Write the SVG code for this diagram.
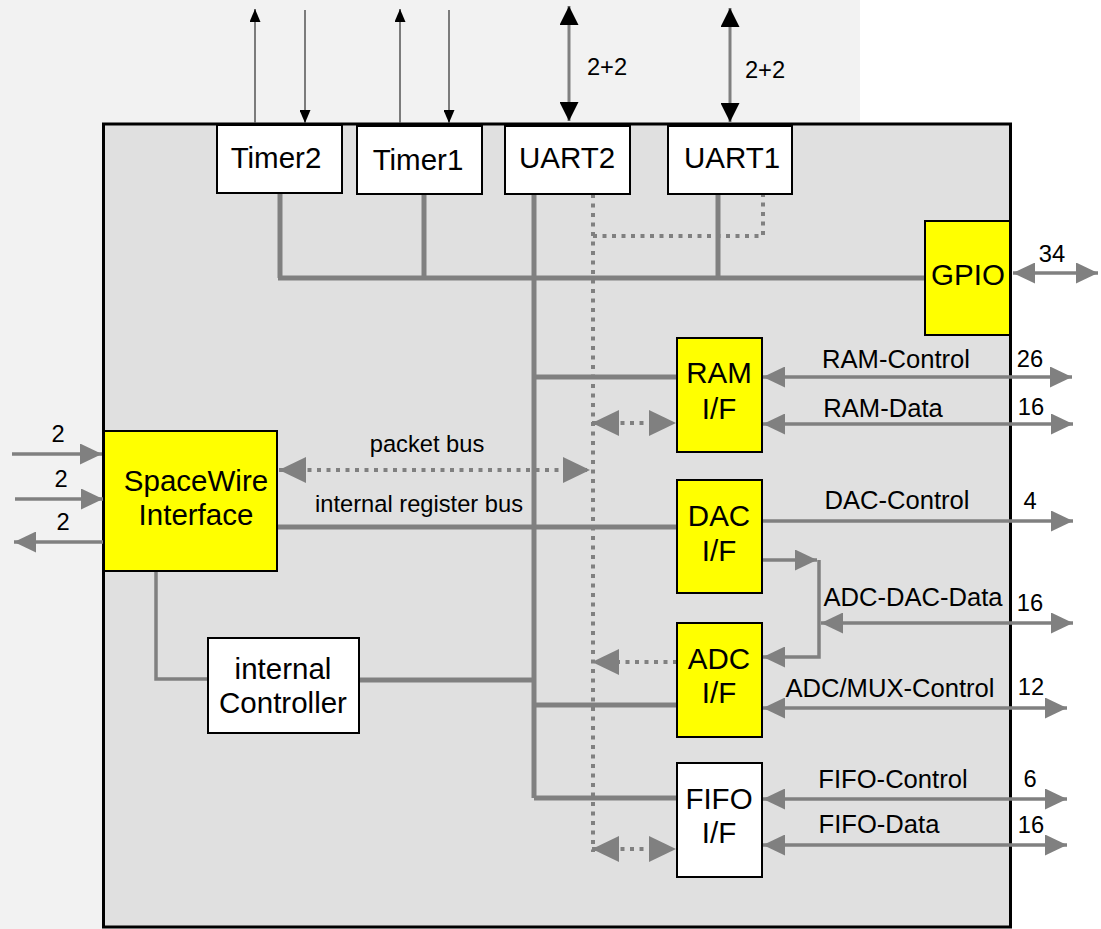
<svg xmlns="http://www.w3.org/2000/svg" width="1101" height="929" viewBox="0 0 1101 929">
<style>
.box{stroke:#000;stroke-width:2}
.w{fill:#fff}
.y{fill:#ffff00}
.t{font-family:"Liberation Sans",Arial,sans-serif;fill:#000;text-anchor:middle}
.big{font-size:29.5px}
.lbl{font-size:23.7px}
.rl{font-size:25.6px}
.bus{stroke:#808080;stroke-width:5;fill:none}
.thin{stroke:#808080;stroke-width:3.5;fill:none}
.ext{stroke:#808080;stroke-width:3.5;fill:none}
.dot{stroke:#808080;stroke-width:4;stroke-dasharray:4 5.5;fill:none}
.sig{stroke:#555;stroke-width:1.5;fill:none}
.uart{stroke:#808080;stroke-width:3;fill:none}
</style>
<defs>
<marker id="ga" markerUnits="userSpaceOnUse" markerWidth="22" markerHeight="21" refX="22" refY="10.5" orient="auto-start-reverse"><path d="M0,0 L22,10.5 L0,21 z" fill="#808080"/></marker>
<marker id="gb" markerUnits="userSpaceOnUse" markerWidth="27" markerHeight="26" refX="27" refY="13" orient="auto-start-reverse"><path d="M0,0 L27,13 L0,26 z" fill="#808080"/></marker>
<marker id="ka" markerUnits="userSpaceOnUse" markerWidth="13" markerHeight="11" refX="13" refY="5.5" orient="auto-start-reverse"><path d="M0,0 L13,5.5 L0,11 z" fill="#000"/></marker>
<marker id="kb" markerUnits="userSpaceOnUse" markerWidth="19" markerHeight="19" refX="19" refY="9.5" orient="auto-start-reverse"><path d="M0,0 L19,9.5 L0,19 z" fill="#000"/></marker>
</defs>
<rect x="0" y="0" width="1101" height="929" fill="#fff"/>
<rect x="0" y="0" width="860" height="929" fill="#f2f2f2"/>
<g id="frame"><rect x="103.5" y="124" width="907" height="803" fill="#e0e0e0" stroke="#000" stroke-width="3"/></g>
<g id="connectors">
<path class="bus" d="M280,193 V278 M278,278 H925 M424,193 V278 M534,194 V798 M718,194 V278 M534,377 H677 M277,527 H677 M359,680 H534 M534,705 H677 M534,798 H677"/>
<path class="thin" d="M156,570 V679 H208"/>
<path class="dot" d="M593,194 V852 M593,236 H763 V194"/>
<line class="dot" x1="279" y1="470" x2="590" y2="470" marker-start="url(#gb)" marker-end="url(#gb)"/>
<line class="dot" x1="592" y1="423" x2="676" y2="423" marker-start="url(#gb)" marker-end="url(#gb)"/>
<line class="dot" x1="677" y1="662" x2="592" y2="662" marker-end="url(#gb)"/>
<line class="dot" x1="592" y1="849" x2="676" y2="849" marker-start="url(#gb)" marker-end="url(#gb)"/>
<line class="ext" x1="763" y1="377" x2="1072" y2="377" marker-start="url(#ga)" marker-end="url(#ga)"/>
<line class="ext" x1="763" y1="424" x2="1073" y2="424" marker-start="url(#ga)" marker-end="url(#ga)"/>
<line class="ext" x1="762" y1="521" x2="1073" y2="521" marker-end="url(#ga)"/>
<line class="ext" x1="762" y1="560" x2="817" y2="560" marker-end="url(#ga)"/>
<polyline class="ext" points="819,560 819,657 763,657" marker-end="url(#ga)"/>
<line class="ext" x1="821" y1="623" x2="1073" y2="623" marker-start="url(#ga)" marker-end="url(#ga)"/>
<line class="ext" x1="763" y1="708" x2="1067" y2="708" marker-start="url(#ga)" marker-end="url(#ga)"/>
<line class="ext" x1="763" y1="799" x2="1067" y2="799" marker-start="url(#ga)" marker-end="url(#ga)"/>
<line class="ext" x1="763" y1="845" x2="1067" y2="845" marker-start="url(#ga)" marker-end="url(#ga)"/>
<line class="ext" x1="1013" y1="273" x2="1098" y2="273" marker-start="url(#ga)" marker-end="url(#ga)"/>
<line class="ext" x1="12" y1="454" x2="102" y2="454" marker-end="url(#ga)"/>
<line class="ext" x1="15" y1="499" x2="103" y2="499" marker-end="url(#ga)"/>
<line class="ext" x1="103" y1="542" x2="14" y2="542" marker-end="url(#ga)"/>
<line class="sig" x1="255" y1="123" x2="255" y2="9" marker-end="url(#ka)"/>
<line class="sig" x1="305" y1="10" x2="305" y2="123" marker-end="url(#ka)"/>
<line class="sig" x1="400" y1="123" x2="400" y2="9" marker-end="url(#ka)"/>
<line class="sig" x1="449" y1="10" x2="449" y2="123" marker-end="url(#ka)"/>
<line class="uart" x1="569" y1="6" x2="569" y2="121" marker-start="url(#kb)" marker-end="url(#kb)"/>
<line class="uart" x1="730" y1="8" x2="730" y2="122" marker-start="url(#kb)" marker-end="url(#kb)"/>
</g>
<g id="labels">
<text class="t lbl" x="607" y="75">2+2</text>
<text class="t lbl" x="765" y="78">2+2</text>
<text class="t lbl" x="1052" y="262">34</text>
<text class="t rl" x="896" y="368">RAM-Control</text>
<text class="t lbl" x="1030" y="367">26</text>
<text class="t rl" x="883" y="417">RAM-Data</text>
<text class="t lbl" x="1031" y="415">16</text>
<text class="t rl" x="897" y="509">DAC-Control</text>
<text class="t lbl" x="1030" y="509">4</text>
<text class="t rl" x="913" y="606">ADC-DAC-Data</text>
<text class="t lbl" x="1030" y="611">16</text>
<text class="t rl" x="890" y="697">ADC/MUX-Control</text>
<text class="t lbl" x="1031" y="695">12</text>
<text class="t rl" x="893" y="788">FIFO-Control</text>
<text class="t lbl" x="1030" y="787">6</text>
<text class="t rl" x="879" y="833">FIFO-Data</text>
<text class="t lbl" x="1031" y="833">16</text>
<text class="t lbl" x="58" y="442">2</text>
<text class="t lbl" x="61" y="487">2</text>
<text class="t lbl" x="63" y="530">2</text>
<text class="t lbl" x="427" y="452">packet bus</text>
<text class="t lbl" x="419" y="512">internal register bus</text>
</g>
<g id="timer2"><rect class="box w" x="217" y="125" width="125" height="68"/><text class="t big" x="276" y="168">Timer2</text></g>
<g id="timer1"><rect class="box w" x="357" y="126" width="125" height="68"/><text class="t big" x="418" y="170">Timer1</text></g>
<g id="uart2"><rect class="box w" x="505" y="126" width="125" height="68"/><text class="t big" x="567" y="168">UART2</text></g>
<g id="uart1"><rect class="box w" x="668" y="126" width="124" height="68"/><text class="t big" x="732" y="168">UART1</text></g>
<g id="gpio"><rect class="box y" x="925" y="221" width="85" height="114"/><text class="t big" x="968" y="285">GPIO</text></g>
<g id="spacewire"><rect class="box y" x="104" y="431" width="173" height="140"/><text class="t big" x="196" y="491">SpaceWire</text><text class="t big" x="196" y="525">Interface</text></g>
<g id="controller"><rect class="box w" x="208" y="638" width="151" height="95"/><text class="t big" x="283" y="679">internal</text><text class="t big" x="283" y="713">Controller</text></g>
<g id="ramif"><rect class="box y" x="677" y="338" width="85" height="114"/><text class="t big" x="719" y="383">RAM</text><text class="t big" x="719" y="419">I/F</text></g>
<g id="dacif"><rect class="box y" x="677" y="480" width="85" height="113"/><text class="t big" x="719" y="526">DAC</text><text class="t big" x="719" y="561">I/F</text></g>
<g id="adcif"><rect class="box y" x="677" y="623" width="85" height="114"/><text class="t big" x="719" y="669">ADC</text><text class="t big" x="719" y="703">I/F</text></g>
<g id="fifoif"><rect class="box w" x="677" y="763" width="85" height="114"/><text class="t big" x="719" y="809">FIFO</text><text class="t big" x="719" y="843">I/F</text></g>
</svg>
